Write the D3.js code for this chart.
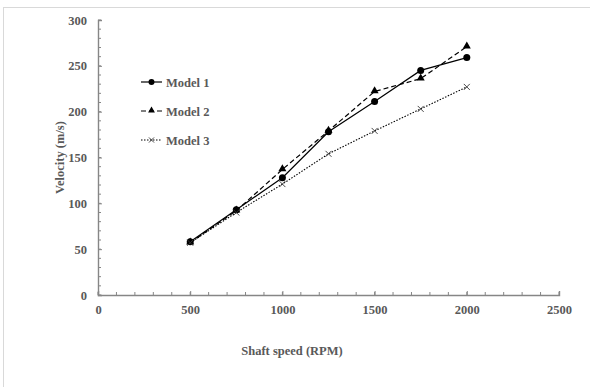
<!DOCTYPE html>
<html>
<head>
<meta charset="utf-8">
<script src="https://cdnjs.cloudflare.com/ajax/libs/d3/7.8.5/d3.min.js"></script>
<style>
  body { margin: 0; background: #fff; }
  text { font-family: "Liberation Serif", "Times New Roman", serif; font-weight: bold; }
</style>
</head>
<body>
<div id="chart"></div>
<script>
var speeds = [500, 750, 1000, 1250, 1500, 1750, 2000];
var model1 = [58, 93, 128, 178, 211, 245, 259];
var model2 = [57, 92, 137, 179, 222, 236, 271];
var model3 = [57, 90, 121, 154, 179, 203, 227];
var seriesNames = ["Model 1", "Model 2", "Model 3"];
var xTicks = [0, 500, 1000, 1500, 2000, 2500];
var yTicks = [0, 50, 100, 150, 200, 250, 300];

var width = 590, height = 387;
var svg = d3.select("#chart").append("svg")
    .attr("width", width)
    .attr("height", height);

// outer frame
svg.append("rect")
    .attr("x", 3.5).attr("y", 7.5)
    .attr("width", 600).attr("height", 400)
    .attr("fill", "none")
    .attr("stroke", "#d9d9d9")
    .attr("stroke-width", 1);

var x = d3.scaleLinear().domain([0, 2500]).range([98, 559]);
var y = d3.scaleLinear().domain([0, 300]).range([295, 20]);

var axisColor = "#868686", labelColor = "#595959";

// minor ticks
svg.append("g").selectAll("line")
    .data(d3.range(0, 2501, 100))
    .enter().append("line")
    .attr("x1", d => x(d)).attr("x2", d => x(d))
    .attr("y1", y(0)).attr("y2", y(0) - 3)
    .attr("stroke", axisColor).attr("stroke-width", 1);

svg.append("g").selectAll("line")
    .data(d3.range(0, 301, 10))
    .enter().append("line")
    .attr("x1", x(0)).attr("x2", x(0) + 3)
    .attr("y1", d => y(d)).attr("y2", d => y(d))
    .attr("stroke", axisColor).attr("stroke-width", 1);

// axes
var xAxis = svg.append("g")
    .attr("transform", "translate(0," + y(0) + ")")
    .call(d3.axisBottom(x).tickValues(xTicks).tickFormat(d3.format("d")).tickSize(-4).tickPadding(10));
var yAxis = svg.append("g")
    .attr("transform", "translate(" + x(0) + ",0)")
    .call(d3.axisLeft(y).tickValues(yTicks).tickFormat(d3.format("d")).tickSize(-4).tickPadding(11));

[xAxis, yAxis].forEach(function(a) {
    a.select(".domain").attr("stroke", axisColor).attr("stroke-width", 1.4);
    a.selectAll(".tick line").attr("stroke", axisColor);
    a.selectAll("text")
        .attr("fill", labelColor)
        .style("font-size", "12.5px")
        .style("font-family", "'Liberation Serif', serif")
        .style("font-weight", "bold");
});

// axis titles
svg.append("text")
    .attr("x", 292).attr("y", 355)
    .attr("text-anchor", "middle")
    .attr("fill", labelColor)
    .style("font-size", "12.5px")
    .text("Shaft speed (RPM)");

svg.append("text")
    .attr("transform", "translate(64," + (y(150)) + ")rotate(-90)")
    .attr("text-anchor", "middle")
    .attr("fill", labelColor)
    .style("font-size", "12.5px")
    .text("Velocity (m/s)");

// series
var series = [
    { name: seriesNames[0], values: model1, dash: null, width: 1.2, marker: "circle" },
    { name: seriesNames[1], values: model2, dash: "5,3", width: 1.2, marker: "triangle" },
    { name: seriesNames[2], values: model3, dash: "1.5,1.5", width: 1.1, marker: "cross" }
];

var line = d3.line()
    .x(d => x(d[0]))
    .y(d => y(d[1]));

function drawMarker(g, type, cx, cy, k) {
    if (type === "circle") {
        g.append("circle").attr("cx", cx).attr("cy", cy).attr("r", 3.5 * k).attr("fill", "#000");
    } else if (type === "triangle") {
        g.append("path")
            .attr("d", d3.symbol().type(d3.symbolTriangle).size(28 * k * k)())
            .attr("transform", "translate(" + cx + "," + (cy - 0.5) + ")")
            .attr("fill", "#000");
    } else {
        var r = 3 * k;
        g.append("path")
            .attr("d", "M" + (-r) + "," + (-r) + "L" + r + "," + r + "M" + (-r) + "," + r + "L" + r + "," + (-r))
            .attr("transform", "translate(" + cx + "," + cy + ")")
            .attr("stroke", "#333").attr("stroke-width", 0.9).attr("fill", "none");
    }
}

series.forEach(function(s) {
    var pts = speeds.map((v, i) => [v, s.values[i]]);
    svg.append("path")
        .datum(pts)
        .attr("d", line)
        .attr("fill", "none")
        .attr("stroke", "#000")
        .attr("stroke-width", s.width)
        .attr("stroke-dasharray", s.dash);
    var g = svg.append("g");
    pts.forEach(p => drawMarker(g, s.marker, x(p[0]), y(p[1]), 1));
});

// legend
var legendY = [82, 111, 140];
series.forEach(function(s, i) {
    var g = svg.append("g");
    g.append("line")
        .attr("x1", 141).attr("x2", 162)
        .attr("y1", legendY[i]).attr("y2", legendY[i])
        .attr("stroke", "#000")
        .attr("stroke-width", s.width)
        .attr("stroke-dasharray", s.dash);
    drawMarker(g, s.marker, 151.5, legendY[i], 0.85);
    g.append("text")
        .attr("x", 166).attr("y", legendY[i] + 4.5)
        .attr("fill", labelColor)
        .style("font-size", "12.5px")
        .text(s.name);
});
</script>
</body>
</html>
